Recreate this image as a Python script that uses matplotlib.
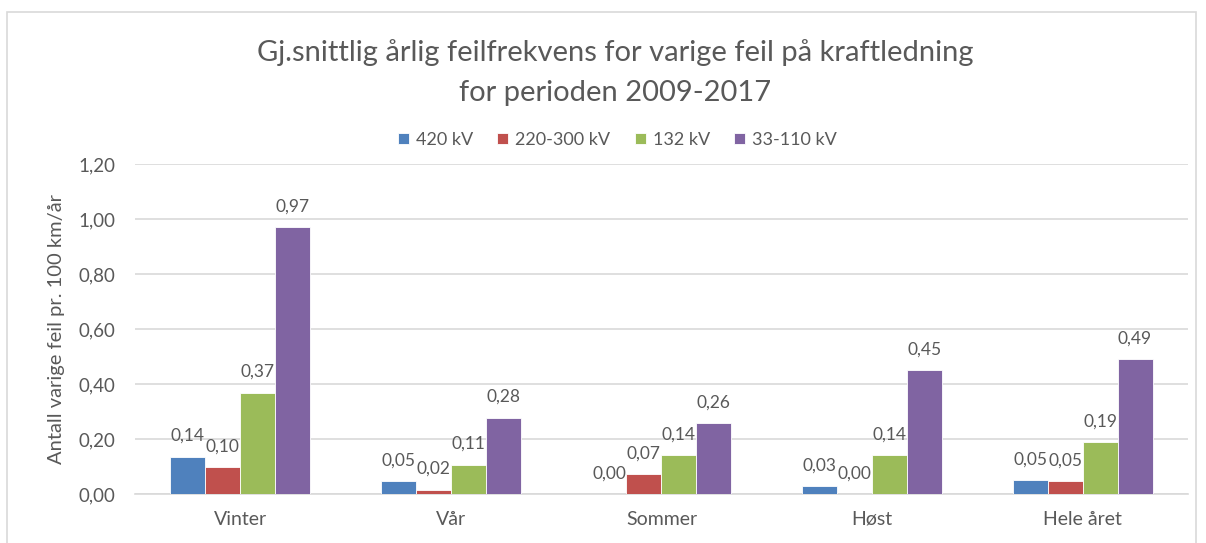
#!/usr/bin/env python3
# -*- coding: utf-8 -*-
"""
Gj.snittlig årlig feilfrekvens for varige feil på kraftledning, 2009-2017
"""

import numpy as np
import matplotlib
matplotlib.use('Agg')
import matplotlib.pyplot as plt
from matplotlib.patches import Rectangle

# Data
categories = ['Vinter', 'Vår', 'Sommer', 'Høst', 'Hele året']
series_names = ['420 kV', '220-300 kV', '132 kV', '33-110 kV']
kv_420 = [0.136, 0.046, 0.0, 0.029, 0.052]
kv_220_300 = [0.097, 0.016, 0.072, 0.0, 0.047]
kv_132 = [0.369, 0.107, 0.142, 0.141, 0.190]
kv_33_110 = [0.971, 0.278, 0.259, 0.450, 0.490]
y_ticks = [0.0, 0.2, 0.4, 0.6, 0.8, 1.0, 1.2]

colors = ['#4F81BD', '#C0504D', '#9BBB59', '#8064A2']
text_color = '#595959'
grid_color = '#D9D9D9'

plt.rcParams['font.family'] = ['Lato', 'DejaVu Sans']


def fmt(v):
    # Norwegian decimal comma
    return f"{v:.2f}".replace('.', ',')


fig = plt.figure(figsize=(12.06, 5.43), dpi=100)
ax = fig.add_axes([0.1119, 0.0902, 0.985 - 0.1119, 0.698 - 0.0902])

x = np.arange(len(categories))
width = 0.166
all_series = [kv_420, kv_220_300, kv_132, kv_33_110]

for i, (name, vals) in enumerate(zip(series_names, all_series)):
    offset = (i - 1.5) * width
    bars = ax.bar(x + offset, vals, width, color=colors[i], label=name,
                  edgecolor='white', linewidth=0.6, zorder=3)
    for b, v in zip(bars, vals):
        ax.annotate(fmt(v), (b.get_x() + b.get_width() / 2, v),
                    xytext=(0, 9), textcoords='offset points',
                    ha='center', va='bottom', fontsize=12.5, color=text_color)

# Axes styling
ax.set_ylim(0, 1.2)
ax.set_xlim(-0.5, len(categories) - 0.5)
ax.set_yticks(y_ticks)
ax.set_yticklabels([fmt(t) for t in y_ticks], fontsize=13.5, color=text_color)
ax.set_xticks(x)
ax.set_xticklabels(categories, fontsize=14, color=text_color)
ax.tick_params(axis='both', length=0)
ax.tick_params(axis='y', pad=14)
ax.tick_params(axis='x', pad=12)
ax.grid(axis='y', color=grid_color, linewidth=1.2, zorder=0)
for side in ['top', 'right', 'left']:
    ax.spines[side].set_visible(False)
ax.spines['bottom'].set_color(grid_color)
ax.spines['bottom'].set_linewidth(1.2)

ax.set_ylabel('Antall varige feil pr. 100 km/år', fontsize=14.5,
              color=text_color, labelpad=10)

# Title and legend
fig.text(0.51, 1 - 53 / 543, 'Gj.snittlig årlig feilfrekvens for varige feil på kraftledning',
         ha='center', va='center', fontsize=21, color=text_color)
fig.text(0.51, 1 - 93 / 543, 'for perioden 2009-2017',
         ha='center', va='center', fontsize=21, color=text_color)

fig.legend(loc='center', bbox_to_anchor=(0.512, 1 - 140 / 543), ncol=4,
           frameon=False, fontsize=13, handlelength=0.6, handleheight=0.6,
           handletextpad=0.4, columnspacing=1.35, labelcolor=text_color)

# Chart frame
fig.patches.append(Rectangle((7 / 1206, -0.05), (1196 - 7) / 1206, 1.05 - 12 / 543,
                             transform=fig.transFigure, fill=False,
                             edgecolor=grid_color, linewidth=1.2))

fig.savefig('out.png', dpi=100, facecolor='white')
